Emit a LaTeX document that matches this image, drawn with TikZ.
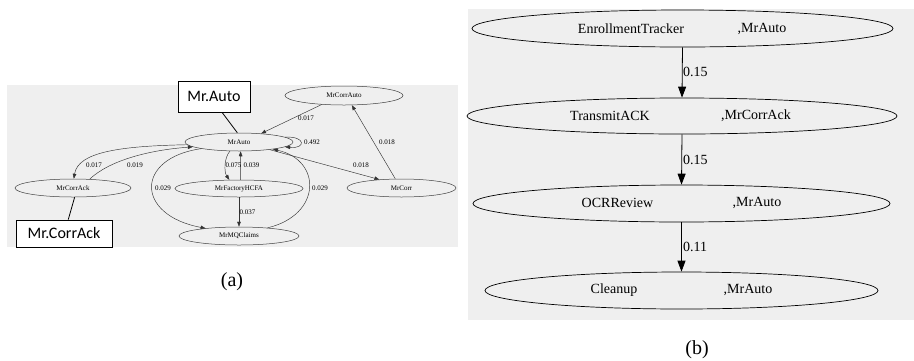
\documentclass[tikz,border=0pt]{standalone}
\usepackage{fontspec}
\setmainfont{Liberation Serif}
\newfontfamily\boxfont{Carlito}
\usepackage{tikz}
\usetikzlibrary{shapes.geometric}
\usetikzlibrary{arrows.meta}
\definecolor{panelgray}{RGB}{239,239,239}

\begin{document}
\begin{tikzpicture}[x=1pt, y=-1pt,
        actor/.style={draw=black!75, ellipse, inner sep=0pt, line width=0.5pt, font=\fontsize{7}{8}\selectfont},
        wt/.style={inner sep=0pt, font=\fontsize{7}{8}\selectfont},
        tag/.style={draw, fill=white, line width=0.8pt, inner sep=0pt, font=\boxfont\fontsize{16}{18}\selectfont},
        task/.style={draw, ellipse, inner sep=0pt, line width=0.7pt},
        big/.style={inner sep=0pt, font=\fontsize{14}{16}\selectfont},
        subcap/.style={inner sep=0pt, font=\fontsize{20}{22}\selectfont},
        sedge/.style={->, >={Triangle[length=5pt, width=3.6pt]}, line width=0.45pt, draw=black!80},
        tedge/.style={->, >={Triangle[length=11pt, width=8pt]}, line width=0.8pt}]
            \useasboundingbox (0, 0) rectangle (914, 360);
            \fill[panelgray] (7, 85) rectangle (458, 247);
            \fill[panelgray] (468, 9) rectangle (914, 320);

            \node[actor, minimum width=108pt, minimum height=18pt] (auto) at (239, 142) {MrAuto};
            \node[actor, minimum width=118pt, minimum height=19pt] (corrauto) at (344, 95.5) {MrCorrAuto};
            \node[actor, minimum width=116pt, minimum height=18pt] (corrack) at (73, 188) {MrCorrAck};
            \node[actor, minimum width=128pt, minimum height=17pt] (factory) at (239, 188.5) {MrFactoryHCFA};
            \node[actor, minimum width=120pt, minimum height=18pt] (mq) at (239, 236) {MrMQClaims};
            \node[actor, minimum width=109pt, minimum height=18pt] (corr) at (401.5, 188) {MrCorr};

            \draw[sedge] (corrauto.-158) -- (auto.21);
            \draw[sedge] (auto.6) .. controls (306, 136) and (306, 149) .. (auto.-6);
            \draw[sedge] (auto.-14) -- (corr.159);
            \draw[sedge] (corr.124) -- (corrauto.-51);
            \draw[sedge] (auto.-177) .. controls (120, 146) and (78, 152) .. (corrack.85);
            \draw[sedge] (corrack.28) .. controls (110, 160) and (150, 150) .. (auto.-174);
            \draw[sedge] (auto.-170) .. controls (135, 158) and (135, 215) .. (mq.167);
            \draw[sedge] (mq.16) .. controls (322, 215) and (322, 160) .. (auto.-12);
            \draw[sedge] (auto.-135) .. controls (224, 158) and (224, 172) .. (factory.138);
            \draw[sedge] (factory.80) -- (auto.-80);
            \draw[sedge] (factory.south) -- (mq.north);

            \node[wt] (w1) at (306, 118) {0.017};
            \node[wt] (w2) at (312, 142) {0.492};
            \node[wt] (w3) at (361, 165) {0.018};
            \node[wt] (w4) at (387, 142) {0.018};
            \node[wt] (w5) at (94, 165) {0.017};
            \node[wt] (w6) at (135, 165) {0.019};
            \node[wt] (w7) at (163, 188) {0.029};
            \node[wt] (w8) at (320, 188) {0.029};
            \node[wt] (w9) at (233.5, 165) {0.075};
            \node[wt] (w10) at (251.5, 165) {0.039};
            \node[wt] (w11) at (247.5, 212) {0.037};

            \node[tag, minimum width=72pt, minimum height=31pt] (autotag) at (214, 96.5) {Mr.Auto};
            \node[tag, minimum width=96pt, minimum height=27pt] (corracktag) at (64, 233.5) {Mr.CorrAck};
            \draw[line width=0.8pt] (autotag.-63) -- (auto.100);
            \draw[line width=0.8pt] (corrack.-80) -- (corracktag.73);

            \node[subcap] (capa) at (232, 282) {(a)};

            \node[task, minimum width=421pt, minimum height=37pt] (t1) at (682.5, 28.5) {};
            \node[task, minimum width=430pt, minimum height=36pt] (t2) at (682, 116) {};
            \node[task, minimum width=417pt, minimum height=37pt] (t3) at (681.5, 203.5) {};
            \node[task, minimum width=393pt, minimum height=37pt] (t4) at (681.5, 290.5) {};

            \node[big] (t1a) at (631, 29) {EnrollmentTracker};
            \node[big] (t1b) at (762, 29) {,MrAuto};
            \node[big] (t2a) at (610, 116) {TransmitACK};
            \node[big] (t2b) at (756, 116) {,MrCorrAck};
            \node[big] (t3a) at (617.5, 203) {OCRReview};
            \node[big] (t3b) at (757, 203) {,MrAuto};
            \node[big] (t4a) at (614, 290) {Cleanup};
            \node[big] (t4b) at (748, 290) {,MrAuto};

            \draw[tedge] (t1.south) -- (t2.north);
            \draw[tedge] (t2.south) -- (t3.north);
            \draw[tedge] (t3.south) -- (t4.north);

            \node[big, anchor=west] (p1) at (683, 72) {0.15};
            \node[big, anchor=west] (p2) at (683, 160) {0.15};
            \node[big, anchor=west] (p3) at (683, 247) {0.11};

            \node[subcap] (capb) at (697, 350) {(b)};
        \end{tikzpicture}
\end{document}
